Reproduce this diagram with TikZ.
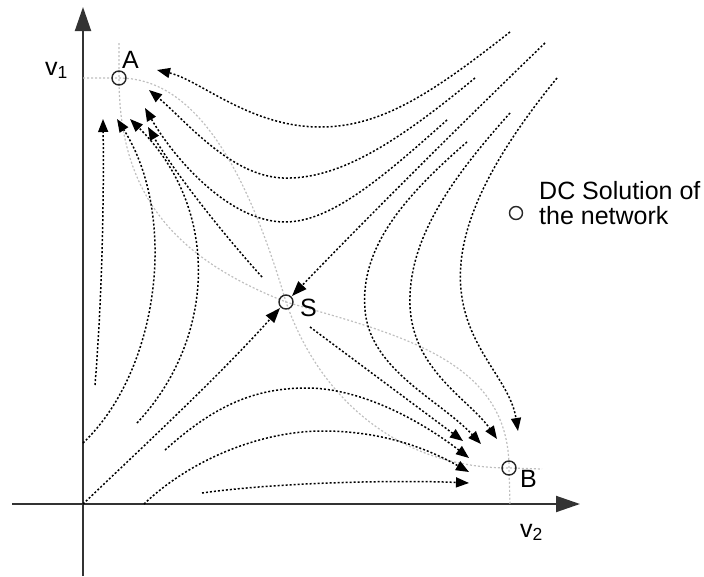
\documentclass[tikz,border=0pt]{standalone}
\usepackage{fontspec}
\setmainfont{Liberation Sans}
\usetikzlibrary{arrows.meta}
\begin{document}
\begin{tikzpicture}[x=1pt,y=-1pt,
  axis/.style={line width=2pt, draw=black!80, -{Triangle[length=24pt,width=16pt]}},
  traj/.style={line width=1.5pt, dash pattern=on 2pt off 2pt, -{Triangle[length=13pt,width=10pt]}},
  trajS/.style={line width=1.5pt, dash pattern=on 2pt off 2pt, -{Triangle[length=15pt,width=11pt]}},
  guide/.style={line width=1.2pt, draw=black!25, dash pattern=on 2pt off 2pt},
  eqpt/.style={circle, draw=black!85, line width=1.4pt, minimum size=14pt, inner sep=0pt},
  lbl/.style={font=\fontsize{25}{24.5}\selectfont, inner sep=0pt}]
\useasboundingbox (0,0) rectangle (704,576);

% axes
\coordinate (yb) at (83,576); \coordinate (yt) at (83,7);
\coordinate (xl) at (12,504); \coordinate (xr) at (580,504);
\draw[axis] (yb) -- (yt);
\draw[axis] (xl) -- (xr);
\node[lbl, anchor=base west] (v1) at (45,75) {v\textsubscript{1}};
\node[lbl, anchor=base west] (v2) at (520,537) {v\textsubscript{2}};

% equilibrium points (coordinates)
\coordinate (Ac) at (119,78);
\coordinate (Sc) at (286,302);
\coordinate (Bc) at (509,468);

% grey guide curves
\coordinate (g1s) at (83,78); \coordinate (g1e) at (542,469);
\coordinate (g2s) at (119,43); \coordinate (g2e) at (510,504);
\draw[guide] (g1s) -- (Ac) .. controls (200,78) and (250,180) .. (Sc)
  .. controls (320,400) and (400,468) .. (Bc) -- (g1e);
\draw[guide] (g2s) -- (Ac) .. controls (119,200) and (180,260) .. (Sc)
  .. controls (400,335) and (509,360) .. (Bc) -- (g2e);

% trajectories towards A
\coordinate (u1s) at (510,32);  \coordinate (u1e) at (157,70);
\coordinate (u2s) at (475,78);  \coordinate (u2e) at (149,90);
\coordinate (u3s) at (447,120); \coordinate (u3e) at (145,108);
\coordinate (u4s) at (262,277); \coordinate (u4e) at (148,127);
\coordinate (l1s) at (95,385);  \coordinate (l1e) at (103,119);
\coordinate (l2s) at (83,443);  \coordinate (l2e) at (117,119);
\coordinate (l3s) at (137,423); \coordinate (l3e) at (130,119);
\draw[traj] (u1s) .. controls (430,95) and (380,127) .. (320,127)
  .. controls (250,127) and (200,80) .. (u1e);
\draw[traj] (u2s) .. controls (400,140) and (340,180) .. (283,178)
  .. controls (230,176) and (185,120) .. (u2e);
\draw[traj] (u3s) .. controls (380,180) and (330,222) .. (285,222)
  .. controls (230,222) and (175,160) .. (u3e);
\draw[traj] (u4s) .. controls (215,225) and (170,165) .. (u4e);
\draw[traj] (l1s) .. controls (102,300) and (104,200) .. (l1e);
\draw[traj] (l2s) .. controls (160,370) and (178,215) .. (l2e);
\draw[traj] (l3s) .. controls (215,340) and (222,210) .. (l3e);

% trajectories towards S
\coordinate (s1s) at (545,43);  \coordinate (s1e) at (292,296);
\coordinate (s2s) at (83,504);  \coordinate (s2e) at (280,308);
\draw[trajS] (s1s) .. controls (460,125) and (360,225) .. (s1e);
\draw[trajS] (s2s) .. controls (150,440) and (220,375) .. (s2e);

% trajectories towards B
\coordinate (o1s) at (310,327); \coordinate (o1e) at (463,441);
\coordinate (r1s) at (467,142); \coordinate (r1e) at (481,444);
\coordinate (r2s) at (510,113); \coordinate (r2e) at (497,439);
\coordinate (r3s) at (557,78);  \coordinate (r3e) at (518,431);
\coordinate (d1s) at (165,450); \coordinate (d1e) at (469,458);
\coordinate (d2s) at (144,504); \coordinate (d2e) at (469,472);
\coordinate (d3s) at (202,493); \coordinate (d3e) at (469,483);
\draw[traj] (o1s) -- (o1e);
\draw[traj] (r1s) .. controls (400,200) and (360,250) .. (365,310)
  .. controls (370,370) and (440,400) .. (r1e);
\draw[traj] (r2s) .. controls (450,180) and (408,240) .. (410,305)
  .. controls (412,370) and (470,400) .. (r2e);
\draw[traj] (r3s) .. controls (490,160) and (455,230) .. (461,290)
  .. controls (467,350) and (510,380) .. (r3e);
\draw[traj] (d1s) .. controls (215,405) and (255,388) .. (307,388)
  .. controls (360,388) and (420,420) .. (d1e);
\draw[traj] (d2s) .. controls (190,460) and (260,431) .. (323,431)
  .. controls (385,431) and (430,450) .. (d2e);
\draw[traj] (d3s) .. controls (280,482) and (400,480) .. (d3e);

% equilibrium markers and labels
\node[eqpt] (A) at (Ac) {};
\node[eqpt] (S) at (Sc) {};
\node[eqpt] (B) at (Bc) {};
\node[lbl, anchor=base west] (Alab) at (122,68) {A};
\node[lbl, anchor=base west] (Slab) at (300,316) {S};
\node[lbl, anchor=base west] (Blab) at (520,487) {B};

% legend
\node[eqpt, minimum size=13pt] (leg) at (516,213) {};
\node[lbl, align=left, anchor=north west] (legt) at (539,181.5) {DC Solution of\\the network};
\end{tikzpicture}
\end{document}
